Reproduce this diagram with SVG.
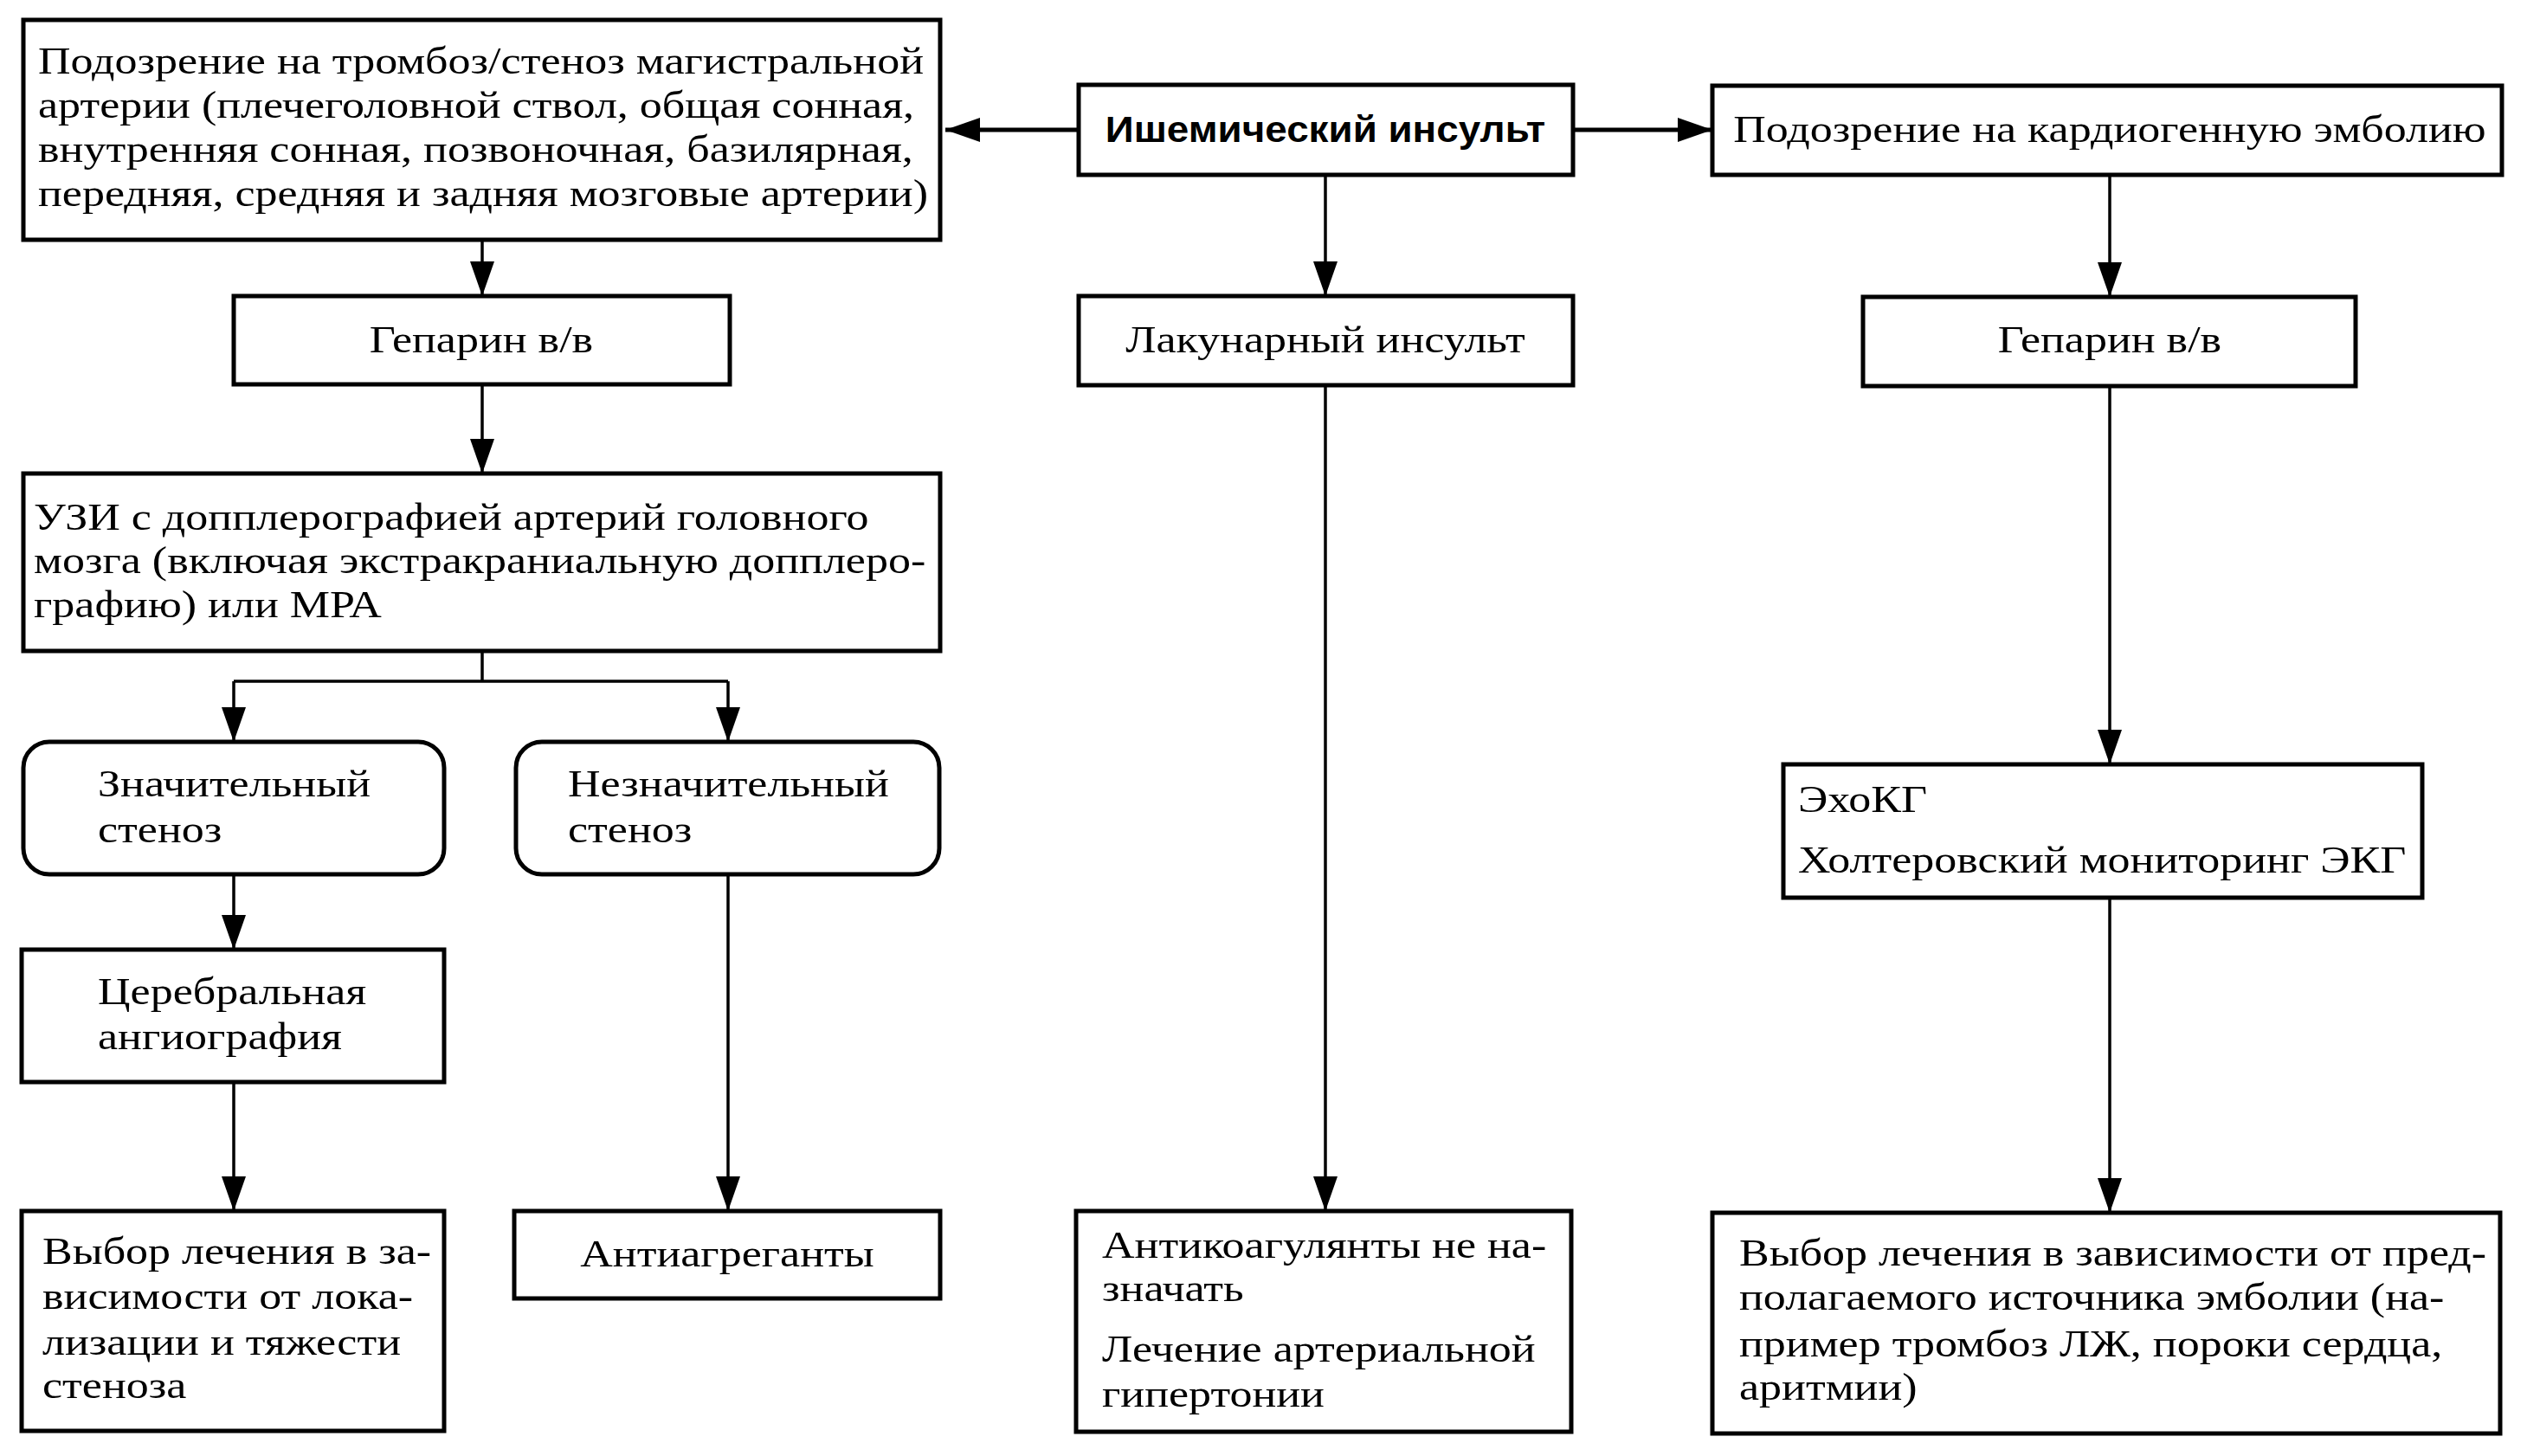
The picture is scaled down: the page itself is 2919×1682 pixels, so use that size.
<svg xmlns="http://www.w3.org/2000/svg" width="2919" height="1682" viewBox="0 0 2919 1682">
<style>
.box{fill:#fff;stroke:#000;stroke-width:5}
.t{font-family:"Liberation Serif","Times New Roman",serif;font-size:45px;fill:#000}
.c{text-anchor:middle}
.b{font-family:"Liberation Sans",Arial,sans-serif;font-weight:bold;font-size:42px;fill:#000}
.ln{fill:none;stroke:#000;stroke-width:3.5}
.lh{fill:none;stroke:#000;stroke-width:5}
</style>
<defs>
<marker id="ah" markerUnits="userSpaceOnUse" markerWidth="42" markerHeight="30" refX="40" refY="14" orient="auto">
<path d="M0,0 L40,14 L0,28 z" fill="#000"/>
</marker>
</defs>
<rect width="2919" height="1682" fill="#fff"/>
<g id="connectors">
<path class="lh" d="M1246,150 L1092,150" marker-end="url(#ah)"/>
<path class="lh" d="M1817,150 L1978,150" marker-end="url(#ah)"/>
<path class="ln" d="M557,277 L557,342" marker-end="url(#ah)"/>
<path class="ln" d="M557,444 L557,547" marker-end="url(#ah)"/>
<path class="ln" d="M557,752 L557,787 M270,787 L841,787"/>
<path class="ln" d="M270,787 L270,857" marker-end="url(#ah)"/>
<path class="ln" d="M841,787 L841,857" marker-end="url(#ah)"/>
<path class="ln" d="M270,1010 L270,1097" marker-end="url(#ah)"/>
<path class="ln" d="M270,1250 L270,1399" marker-end="url(#ah)"/>
<path class="ln" d="M841,1010 L841,1399" marker-end="url(#ah)"/>
<path class="ln" d="M1531,202 L1531,342" marker-end="url(#ah)"/>
<path class="ln" d="M1531,445 L1531,1399" marker-end="url(#ah)"/>
<path class="ln" d="M2437,202 L2437,343" marker-end="url(#ah)"/>
<path class="ln" d="M2437,446 L2437,883" marker-end="url(#ah)"/>
<path class="ln" d="M2437,1037 L2437,1401" marker-end="url(#ah)"/>
</g>
<g id="n-thromb">
<rect class="box" x="27" y="23" width="1059" height="254"/>
<text class="t" transform="translate(44,0) scale(1.156,1)" x="0" y="85">Подозрение на тромбоз/стеноз магистральной</text>
<text class="t" transform="translate(44,0) scale(1.156,1)" x="0" y="136">артерии (плечеголовной ствол, общая сонная,</text>
<text class="t" transform="translate(44,0) scale(1.156,1)" x="0" y="187">внутренняя сонная, позвоночная, базилярная,</text>
<text class="t" transform="translate(44,0) scale(1.156,1)" x="0" y="238">передняя, средняя и задняя мозговые артерии)</text>
</g>
<g id="n-ischemic">
<rect class="box" x="1246" y="98" width="571" height="104"/>
<text class="b c" transform="translate(1531,0) scale(1.09,1)" x="0" y="164">Ишемический инсульт</text>
</g>
<g id="n-cardio">
<rect class="box" x="1978" y="99" width="912" height="103"/>
<text class="t c" transform="translate(2437,0) scale(1.156,1)" x="0" y="164">Подозрение на кардиогенную эмболию</text>
</g>
<g id="n-hep1">
<rect class="box" x="270" y="342" width="573" height="102"/>
<text class="t c" transform="translate(556,0) scale(1.156,1)" x="0" y="407">Гепарин в/в</text>
</g>
<g id="n-lacunar">
<rect class="box" x="1246" y="342" width="571" height="103"/>
<text class="t c" transform="translate(1531,0) scale(1.156,1)" x="0" y="407">Лакунарный инсульт</text>
</g>
<g id="n-hep2">
<rect class="box" x="2152" y="343" width="569" height="103"/>
<text class="t c" transform="translate(2437,0) scale(1.156,1)" x="0" y="407">Гепарин в/в</text>
</g>
<g id="n-usi">
<rect class="box" x="27" y="547" width="1059" height="205"/>
<text class="t" transform="translate(39,0) scale(1.156,1)" x="0" y="612">УЗИ с допплерографией артерий головного</text>
<text class="t" transform="translate(39,0) scale(1.156,1)" x="0" y="662">мозга (включая экстракраниальную допплеро-</text>
<text class="t" transform="translate(39,0) scale(1.156,1)" x="0" y="713">графию) или МРА</text>
</g>
<g id="n-sig">
<rect class="box" x="27" y="857" width="486" height="153" rx="30" ry="30"/>
<text class="t" transform="translate(113,0) scale(1.156,1)" x="0" y="920">Значительный</text>
<text class="t" transform="translate(113,0) scale(1.156,1)" x="0" y="973">стеноз</text>
</g>
<g id="n-insig">
<rect class="box" x="596" y="857" width="489" height="153" rx="30" ry="30"/>
<text class="t" transform="translate(656,0) scale(1.156,1)" x="0" y="920">Незначительный</text>
<text class="t" transform="translate(656,0) scale(1.156,1)" x="0" y="973">стеноз</text>
</g>
<g id="n-echo">
<rect class="box" x="2060" y="883" width="738" height="154"/>
<text class="t" transform="translate(2077,0) scale(1.156,1)" x="0" y="938">ЭхоКГ</text>
<text class="t" transform="translate(2077,0) scale(1.156,1)" x="0" y="1008">Холтеровский мониторинг ЭКГ</text>
</g>
<g id="n-angio">
<rect class="box" x="25" y="1097" width="488" height="153"/>
<text class="t" transform="translate(113,0) scale(1.156,1)" x="0" y="1160">Церебральная</text>
<text class="t" transform="translate(113,0) scale(1.156,1)" x="0" y="1212">ангиография</text>
</g>
<g id="n-choice1">
<rect class="box" x="25" y="1399" width="488" height="254"/>
<text class="t" transform="translate(49,0) scale(1.156,1)" x="0" y="1460">Выбор лечения в за-</text>
<text class="t" transform="translate(49,0) scale(1.156,1)" x="0" y="1512">висимости от лока-</text>
<text class="t" transform="translate(49,0) scale(1.156,1)" x="0" y="1565">лизации и тяжести</text>
<text class="t" transform="translate(49,0) scale(1.156,1)" x="0" y="1615">стеноза</text>
</g>
<g id="n-antiagr">
<rect class="box" x="594" y="1399" width="492" height="101"/>
<text class="t c" transform="translate(840,0) scale(1.156,1)" x="0" y="1463">Антиагреганты</text>
</g>
<g id="n-anticoag">
<rect class="box" x="1243" y="1399" width="572" height="255"/>
<text class="t" transform="translate(1273,0) scale(1.156,1)" x="0" y="1453">Антикоагулянты не на-</text>
<text class="t" transform="translate(1273,0) scale(1.156,1)" x="0" y="1503">значать</text>
<text class="t" transform="translate(1273,0) scale(1.156,1)" x="0" y="1573">Лечение артериальной</text>
<text class="t" transform="translate(1273,0) scale(1.156,1)" x="0" y="1625">гипертонии</text>
</g>
<g id="n-choice2">
<rect class="box" x="1978" y="1401" width="910" height="255"/>
<text class="t" transform="translate(2009,0) scale(1.156,1)" x="0" y="1462">Выбор лечения в зависимости от пред-</text>
<text class="t" transform="translate(2009,0) scale(1.156,1)" x="0" y="1513">полагаемого источника эмболии (на-</text>
<text class="t" transform="translate(2009,0) scale(1.156,1)" x="0" y="1567">пример тромбоз ЛЖ, пороки сердца,</text>
<text class="t" transform="translate(2009,0) scale(1.156,1)" x="0" y="1617">аритмии)</text>
</g>
</svg>
